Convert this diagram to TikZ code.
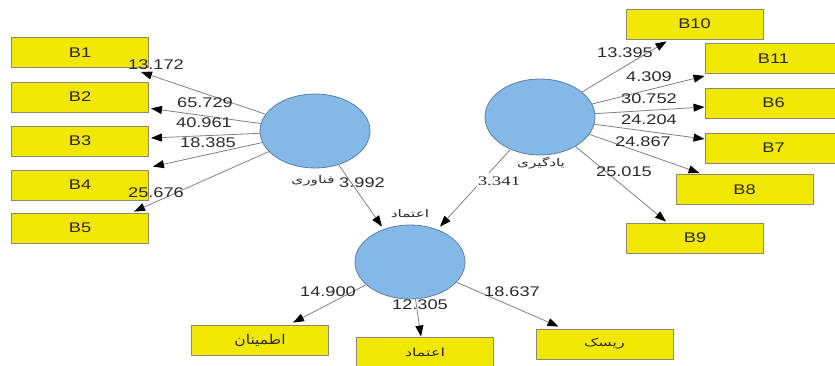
\documentclass[tikz,border=0pt]{standalone}
\usepackage{fontspec}
\setmainfont{Liberation Sans}
\newfontfamily\numfont{Liberation Sans}[FakeStretch=1.3]
\newfontfamily\serifnum{Liberation Serif}[FakeStretch=1.45]
\newfontfamily\arabicfont[Script=Arabic,FakeStretch=1.15]{DejaVu Sans}
\newfontfamily\arabicwide[Script=Arabic,FakeStretch=1.45]{DejaVu Sans}
\TeXXeTstate=1
\usetikzlibrary{arrows.meta,shapes.geometric}
\definecolor{boxyellow}{HTML}{F2E700}
\definecolor{boxedge}{HTML}{8A8A70}
\definecolor{latfill}{HTML}{84B8E6}
\definecolor{latedge}{HTML}{5A7FA8}
\definecolor{linegray}{HTML}{808080}
\definecolor{ink}{HTML}{2A2A2A}
\tikzset{
  ind/.style={draw=boxedge, line width=0.9pt, fill=boxyellow, minimum width=137pt,
    minimum height=30pt, inner sep=0pt, font=\numfont\fontsize{14}{14}\selectfont, text=ink},
  lat/.style={ellipse, draw=latedge, line width=0.8pt, fill=latfill, minimum width=110pt,
    minimum height=74pt, inner sep=0pt},
  conn/.style={draw=linegray, line width=0.8pt, -{Triangle[length=11pt,width=8pt,color=black]}},
  num/.style={font=\numfont\fontsize{14}{14}\selectfont, text=ink, inner sep=0pt},
  ar/.style={font=\arabicwide\fontsize{10.5}{11}\selectfont, text=ink, inner sep=0pt},
}
\begin{document}
\begin{tikzpicture}[x=1pt, y=-1pt]
\useasboundingbox (0,0) rectangle (835,366);

% latent variables
\node[lat] (fan) at (315,131) {};
\node[lat, minimum height=76pt] (learn) at (540,117) {};
\node[lat] (trust) at (410,262) {};
\node[ar] (fanlab) at (313,181) {\beginR فناوری\endR};
\node[ar] (learnlab) at (541,163) {\beginR یادگیری\endR};
\node[ar] (trustlab) at (410,214) {\beginR اعتماد\endR};

% indicators of the left construct
\node[ind] (b1) at (80,52.5) {B1};
\node[ind] (b2) at (80,97) {B2};
\node[ind] (b3) at (80,141) {B3};
\node[ind] (b4) at (80,185) {B4};
\node[ind] (b5) at (80,228) {B5};

% indicators of the right construct
\node[ind] (b10) at (694.5,24) {B10};
\node[ind] (b11) at (773.5,58.5) {B11};
\node[ind] (b6) at (773.5,103) {B6};
\node[ind] (b7) at (773.5,148) {B7};
\node[ind] (b8) at (744.5,189.5) {B8};
\node[ind] (b9) at (695,238) {B9};

% indicators of the bottom construct
\node[ind, font=\arabicfont\fontsize{13.5}{14}\selectfont] (etm) at (260,340) {\beginR اطمینان\endR};
\node[ind, font=\arabicwide\fontsize{11}{11}\selectfont] (etq) at (425,352) {\beginR اعتماد\endR};
\node[ind, font=\arabicwide\fontsize{11}{11}\selectfont] (risk) at (604.5,344) {\beginR ریسک\endR};

% outer loadings, left
\draw[conn] (fan) -- ([xshift=-8pt,yshift=-4pt]b1.south east);
\draw[conn] (fan) -- ([xshift=2pt,yshift=4pt]b2.south east);
\draw[conn] (fan) -- ([xshift=2pt,yshift=3pt]b3.east);
\draw[conn] (fan) -- ([xshift=4pt,yshift=3pt]b4.north east);
\draw[conn] (fan) -- ([xshift=-15pt,yshift=1pt]b5.north east);

% outer loadings, right
\draw[conn] (learn) -- ([xshift=41pt,yshift=-2pt]b10.south west);
\draw[conn] (learn) -- ([yshift=-2pt]b11.south west);
\draw[conn] (learn) -- ([yshift=-4pt]b6.west);
\draw[conn] (learn) -- ([yshift=9pt]b7.west);
\draw[conn] (learn) -- ([xshift=24pt,yshift=1pt]b8.north west);
\draw[conn] (learn) -- ([xshift=40pt,yshift=1pt]b9.north west);

% outer loadings, bottom
\draw[conn] (trust) -- ([xshift=33pt,yshift=2pt]etm.north);
\draw[conn] (trust) -- ([xshift=-4pt]etq.north);
\draw[conn] (trust) -- ([xshift=23pt,yshift=2pt]risk.north west);

% structural paths
\draw[conn] (fan) -- ([xshift=-28pt,yshift=-2pt]trust.north);
\draw[conn] (learn) -- ([xshift=30pt,yshift=-2pt]trust.north);

% t-values
\node[num] (v1) at (156,65) {13.172};
\node[num] (v2) at (205,103) {65.729};
\node[num] (v3) at (204,123) {40.961};
\node[num] (v4) at (208,143) {18.385};
\node[num] (v5) at (156,193) {25.676};
\node[num] (v10) at (625,53) {13.395};
\node[num] (v11) at (649,77) {4.309};
\node[num] (v6) at (649,99) {30.752};
\node[num] (v7) at (649,120) {24.204};
\node[num] (v8) at (643,142) {24.867};
\node[num] (v9) at (624,172) {25.015};
\node[num] (vf) at (362,183) {3.992};
\node[font=\serifnum\fontsize{13}{13}\selectfont, text=ink, fill=white, inner xsep=1pt, inner ysep=4pt] (vl) at (499,181) {3.341};
\node[num] (ve) at (328,292) {14.900};
\node[num] (vq) at (420,305) {12.305};
\node[num] (vr) at (512,292) {18.637};
\end{tikzpicture}
\end{document}
